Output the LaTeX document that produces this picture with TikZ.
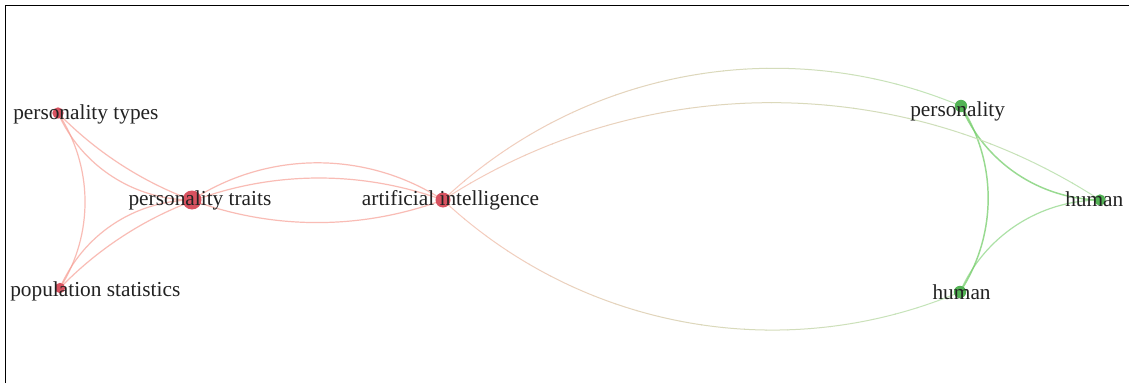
\documentclass[tikz,border=0pt]{standalone}
\usepackage{fontspec}
\setmainfont{Liberation Serif}
\pgfdeclarelayer{edges}
\pgfsetlayers{edges,main}
\definecolor{nodered}{RGB}{216,82,96}
\definecolor{nodegreen}{RGB}{82,178,84}
\definecolor{linkred}{RGB}{247,160,150}
\definecolor{linkgreen}{RGB}{118,206,108}
\definecolor{mixred}{RGB}{248,202,190}
\definecolor{mixgreen}{RGB}{192,230,184}
\definecolor{labeltext}{RGB}{34,34,34}

\begin{document}
\begin{tikzpicture}[x=0.75pt,y=0.75pt,
  dotr/.style={circle,inner sep=0pt,fill=nodered},
  dotg/.style={circle,inner sep=0pt,fill=nodegreen},
  lbl/.style={anchor=base west,inner sep=0pt,text=labeltext,font=\fontsize{16}{19}\selectfont},
  curveL/.style={bend left=33,looseness=0.93},
  curveR/.style={bend right=33,looseness=0.93},
  redlink/.style={draw=linkred,draw opacity=0.7,line width=0.9pt},
  greenlink/.style={draw=linkgreen,draw opacity=0.75,line width=1.1pt},
]
\useasboundingbox (0,0) rectangle (1129,383);

% items (dots)
\node[dotr, minimum size=8.5pt]   (ptypes)  at (58,270)  {};
\node[dotr, minimum size=14.25pt] (ptraits) at (192,183) {};
\node[dotr, minimum size=7.75pt]  (pstats)  at (60,95)   {};
\node[dotr, minimum size=11.25pt] (ai)      at (443,183) {};
\node[dotg, minimum size=9.25pt]  (pers)    at (961,277) {};
\node[dotg, minimum size=8.5pt]   (humR)    at (1100,183) {};
\node[dotg, minimum size=9.25pt]  (humB)    at (960,91)  {};

% item labels
\node[lbl] (ptypes-t)  at (13,263.7)  {personality types};
\node[lbl] (ptraits-t) at (128.3,178) {personality traits};
\node[lbl] (pstats-t)  at (10,87)     {population statistics};
\node[lbl] (ai-t)      at (361.7,178) {artificial intelligence};
\node[lbl] (pers-t)    at (910,267)   {personality};
\node[lbl] (humR-t)    at (1065,177)  {human};
\node[lbl] (humB-t)    at (932.3,84)  {human};

\begin{pgfonlayer}{edges}
  \fill[white] (0,0) rectangle (1129,383);

  % links inside the red cluster
  \draw[redlink] (ptypes.center) to[curveL] (pstats.center);
  \draw[redlink] (ptypes.center) to[curveR] (ptraits.center);
  \draw[redlink] (pstats.center) to[curveL] (ptraits.center);
  \draw[redlink] (ptraits.center) to[curveL] (ai.center);
  \draw[redlink] (pstats.center) to[curveL] (ai.center);
  \draw[redlink] (ptypes.center) to[curveR] (ai.center);

  % links inside the green cluster
  \draw[greenlink] (pers.center) to[curveR] (humR.center);
  \draw[greenlink] (pers.center) to[curveL] (humB.center);
  \draw[greenlink, draw opacity=0.6, line width=0.9pt] (humB.center) to[curveL] (humR.center);

  % links between clusters, coloured from red to green along x
  \foreach \src/\dst/\ang/\xa/\xb in {ai/pers/33/443/961, ai/humR/33/443/1100, ai/humB/-33/443/960} {
    \foreach \i in {0,...,23} {
      \pgfmathsetmacro{\lo}{\xa+(\xb-\xa)*\i/24-0.4}
      \pgfmathsetmacro{\hi}{\xa+(\xb-\xa)*(\i+1)/24+0.4}
      \pgfmathsetmacro{\mixp}{100*(\i+0.5)/24}
      \begin{scope}
        \clip (\lo,0) rectangle (\hi,383);
        \draw[draw=mixgreen!\mixp!mixred, line width=0.75pt]
          (\src.center) to[bend left=\ang, looseness=0.93] (\dst.center);
      \end{scope}
    }
  }
\end{pgfonlayer}

% frame
\draw[line width=1.2pt, black] (5.5,0) -- (5.5,377.5) -- (1129,377.5);
\end{tikzpicture}
\end{document}
